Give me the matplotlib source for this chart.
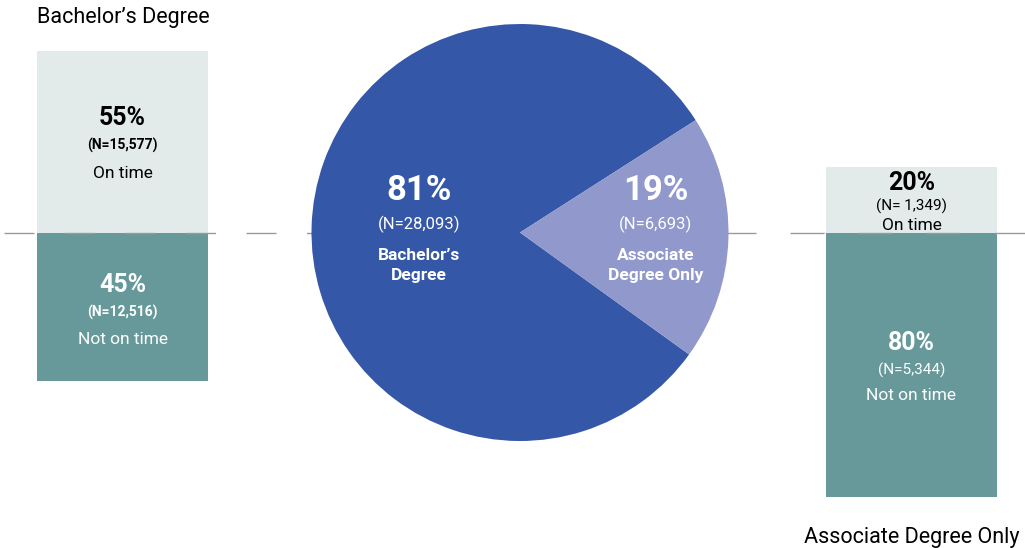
"""Degree completion: share of bachelor's vs associate-only, with on-time split."""

import matplotlib.pyplot as plt

plt.rcParams["font.family"] = ["Roboto", "DejaVu Sans"]

W, H = 1025, 548

pie_names = ["Bachelor’s\nDegree", "Associate\nDegree Only"]
pie_shares = [81, 19]
pie_counts = ["28,093", "6,693"]

bach_labels = ["On time", "Not on time"]
bach_shares = [55, 45]
bach_counts = ["15,577", "12,516"]

assoc_labels = ["On time", "Not on time"]
assoc_shares = [20, 80]
assoc_counts = [" 1,349", "5,344"]

BLUE = "#3557a7"
LAVENDER = "#9098cc"
LIGHT = "#e3ebea"
TEAL = "#67999b"
LINE = "#9a9a9a"

PX_PER_PCT = 3.3
BASE = H - 232.5  # the dashed divider, in flipped pixel coords


def y(px):
    return H - px


fig = plt.figure(figsize=(W / 100, H / 100), dpi=100)
ax = fig.add_axes([0, 0, 1, 1])

# pie in the middle
ax.pie(
    pie_shares,
    colors=[BLUE, LAVENDER],
    startangle=32.6,
    counterclock=True,
    center=(520, BASE),
    radius=208.5,
    wedgeprops=dict(linewidth=0, zorder=3),
)

# dashed divider, behind the pie but over the bars
ax.plot([4, 330], [BASE, BASE], color=LINE, lw=1,
        linestyle=(0, (21.6, 21.96)), zorder=2)
ax.plot([722, W], [BASE, BASE], color=LINE, lw=1,
        linestyle=(0, (24.5, 24.5)), zorder=2)


def stacked_bar(xc, shares, counts, labels, offsets, sizes, n_bold):
    on, off = shares
    h_on, h_off = on * PX_PER_PCT, off * PX_PER_PCT
    ax.bar(xc, h_on, width=171, bottom=BASE, color=LIGHT, zorder=1)
    ax.bar(xc, h_off, width=171, bottom=BASE - h_off, color=TEAL, zorder=1)
    segs = [(BASE + h_on / 2, "black", 0), (BASE - h_off / 2, "white", 1)]
    for (yc, col, i) in segs:
        d_pct, d_n, d_lab = offsets[i]
        ax.text(xc, yc - d_pct, f"{shares[i]}%", ha="center", va="center",
                fontsize=sizes[0], fontweight="bold", color=col, zorder=4)
        ax.text(xc, yc - d_n, f"(N={counts[i]})", ha="center", va="center",
                fontsize=sizes[1], fontweight="bold" if n_bold else "normal",
                color=col, zorder=4)
        ax.text(xc, yc - d_lab, labels[i], ha="center", va="center",
                fontsize=sizes[2], color=col, zorder=4)


stacked_bar(122.5, bach_shares, bach_counts, bach_labels,
            [(-24, 4, 32), (-22, 6, 33)], (18, 10, 12.5), True)
stacked_bar(911.5, assoc_shares, assoc_counts, assoc_labels,
            [(-16, 7, 26), (-21, 6, 31)], (18, 11, 12.5), False)

# pie labels
for xc, pct, n, name in zip([419, 656], pie_shares, pie_counts, pie_names):
    ax.text(xc, y(190), f"{pct}%", ha="center", va="center", fontsize=25,
            fontweight="bold", color="white", zorder=4)
    ax.text(xc, y(224), f"(N={n})", ha="center", va="center", fontsize=12,
            color="white", zorder=4)
    ax.text(xc, y(265.5), name, ha="center", va="center", fontsize=12.5,
            fontweight="bold", color="white", linespacing=1.35, zorder=4)

ax.text(37, y(18), "Bachelor’s Degree", ha="left", va="center", fontsize=15.5)
ax.text(911.5, y(537), "Associate Degree Only", ha="center", va="center",
        fontsize=15.5)

ax.set_xlim(0, W)
ax.set_ylim(0, H)
ax.axis("off")

fig.savefig("out.png", dpi=100)
